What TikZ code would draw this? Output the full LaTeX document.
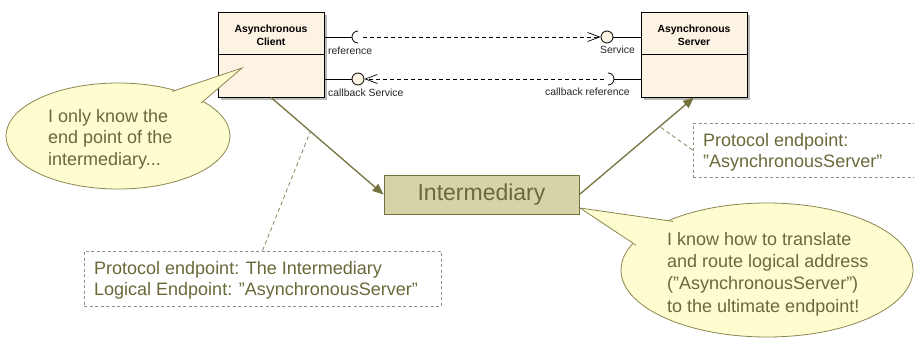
\documentclass[tikz,border=0pt]{standalone}
\usepackage{fontspec}
\setmainfont{Liberation Sans}
\usetikzlibrary{arrows.meta,calc,shadows}
\definecolor{olivetxt}{HTML}{6B6839}
\definecolor{oliveline}{HTML}{77733F}
\definecolor{boxfill}{HTML}{FCF3E4}
\definecolor{interfill}{HTML}{D6D4A7}
\definecolor{callfill}{HTML}{FEFDCF}
\definecolor{callline}{HTML}{8C8752}
\definecolor{notegray}{HTML}{8F8F8F}
\definecolor{notelink}{HTML}{8A8660}
\begin{document}
\begin{tikzpicture}[x=1pt,y=-1pt,
  umlbox/.style={draw=black, fill=boxfill, line width=0.9pt, minimum width=106pt, minimum height=85pt, inner sep=0pt,
    drop shadow={shadow xshift=3pt, shadow yshift=-3pt, fill=gray!55, opacity=1}},
  boxtitle/.style={font=\fontsize{10.4}{13}\selectfont\bfseries, align=center, inner sep=0pt, anchor=base},
  portlabel/.style={font=\fontsize{10.4}{12}\selectfont, text=black!85, inner sep=0pt, anchor=base west},
  ball/.style={circle, draw=black, fill=boxfill, line width=0.8pt, minimum size=12pt, inner sep=0pt},
  portline/.style={draw=black, line width=0.8pt},
  depline/.style={draw=black, line width=0.7pt, dash pattern=on 4pt off 3pt, -{Straight Barb[length=12pt,width=9pt]}},
  mainarrow/.style={draw=oliveline, line width=1.3pt, -{Triangle[length=11pt,width=9pt]}},
  interbox/.style={draw=oliveline, fill=interfill, line width=0.9pt, minimum width=195pt, minimum height=39pt, inner sep=0pt,
    font=\fontsize{23}{27}\selectfont, text=olivetxt},
  note/.style={draw=notegray, line width=0.8pt, dash pattern=on 3pt off 2.5pt, inner sep=0pt},
  notelinkline/.style={draw=notelink, line width=0.8pt, dash pattern=on 4pt off 3pt},
  bigtext/.style={font=\fontsize{18}{21}\selectfont, text=olivetxt, align=left, inner sep=0pt, anchor=base west},
  callout/.style={fill=callfill, draw=callline, line width=0.8pt}
]
\useasboundingbox (0,0) rectangle (914,338);
\fill[white] (0,0) rectangle (914,338);
\clip (0,0) rectangle (914,338);

% component boxes
\node[umlbox] (client) at (271,54.5) {};
\node[umlbox] (server) at (694,54.5) {};
\draw[line width=0.9pt] (client.west) -- (client.east);
\draw[line width=0.9pt] (server.west) -- (server.east);
\node[boxtitle] at (271,45) {Asynchronous\\Client};
\node[boxtitle] at (694,45) {Asynchronous\\Server};

% reference -> Service
\coordinate (refs) at (358,37);
\coordinate (refsl) at (352,37);
\coordinate (refd) at (363,37);
\draw[portline] (refsl -| client.east) -- (refsl);
\draw[portline] (358,31) arc[start angle=-90, end angle=-270, radius=6];
\node[ball] (svcball) at (607,37) {};
\draw[portline] (svcball.east) -- (svcball.east -| server.west);
\draw[depline] (refd) -- (svcball);
\node[portlabel] at (328,54) {reference};
\node[portlabel] at (600,53) {Service};

% callback reference -> callback Service
\node[ball] (cbball) at (358,79) {};
\draw[portline] (cbball.west -| client.east) -- (cbball.west);
\coordinate (cbsr) at (614,79);
\coordinate (cbd) at (604,79);
\draw[portline] (608,73) arc[start angle=-90, end angle=90, radius=6];
\draw[portline] (cbsr) -- (cbsr -| server.west);
\draw[depline] (cbd) -- (cbball);
\node[portlabel] at (328,96) {callback Service};
\node[portlabel] at (545,95) {callback reference};

% intermediary
\node[interbox] (inter) at (481.5,194.5) {Intermediary};
\draw[mainarrow] (client.south) -- (inter.west);
\draw[mainarrow] (inter.east) -- (server.south);

% notes
\node[note, minimum width=357pt, minimum height=55pt] (lnote) at (262.5,278.5) {};
\node[bigtext] at (94,295) {Protocol endpoint: The Intermediary\\Logical Endpoint: ”AsynchronousServer”};
\coordinate (lhook) at ($(client.south)!0.35!(inter.west)$);
\draw[notelinkline] (lnote.north) -- (lhook);

\node[note, minimum width=222pt, minimum height=54pt] (rnote) at (804,150) {};
\node[bigtext] at (703,167.5) {Protocol endpoint:\\”AsynchronousServer”};
\coordinate (rhook) at ($(inter.east)!0.7!(server.south)$);
\draw[notelinkline] (rnote.west) -- (rhook);

% left callout
\path[callout] (118,136) ellipse [x radius=112, y radius=53];
\coordinate (ltip) at (242,68);
\coordinate (lb1) at (172.3,91.4);
\coordinate (lb2) at (201.2,103.0);
\fill[callfill] (ltip) -- (lb1) -- (lb2) -- cycle;
\draw[callline, line width=0.8pt] (lb1) -- (ltip) -- (lb2);
\node[bigtext, font=\fontsize{18}{21.7}\selectfont] at (48,165.4) {I only know the\\end point of the\\intermediary...};

% right callout
\path[callout] (767,270) ellipse [x radius=146, y radius=67];
\coordinate (rtip) at (580,208);
\coordinate (rb1) at (672.9,221.4);
\coordinate (rb2) at (636.1,245.3);
\fill[callfill] (rtip) -- (rb1) -- (rb2) -- cycle;
\draw[callline, line width=0.8pt] (rb1) -- (rtip) -- (rb2);
\node[bigtext, font=\fontsize{18}{22.3}\selectfont] at (667,312) {I know how to translate\\and route logical address\\(”AsynchronousServer”)\\to the ultimate endpoint!};
\end{tikzpicture}
\end{document}
